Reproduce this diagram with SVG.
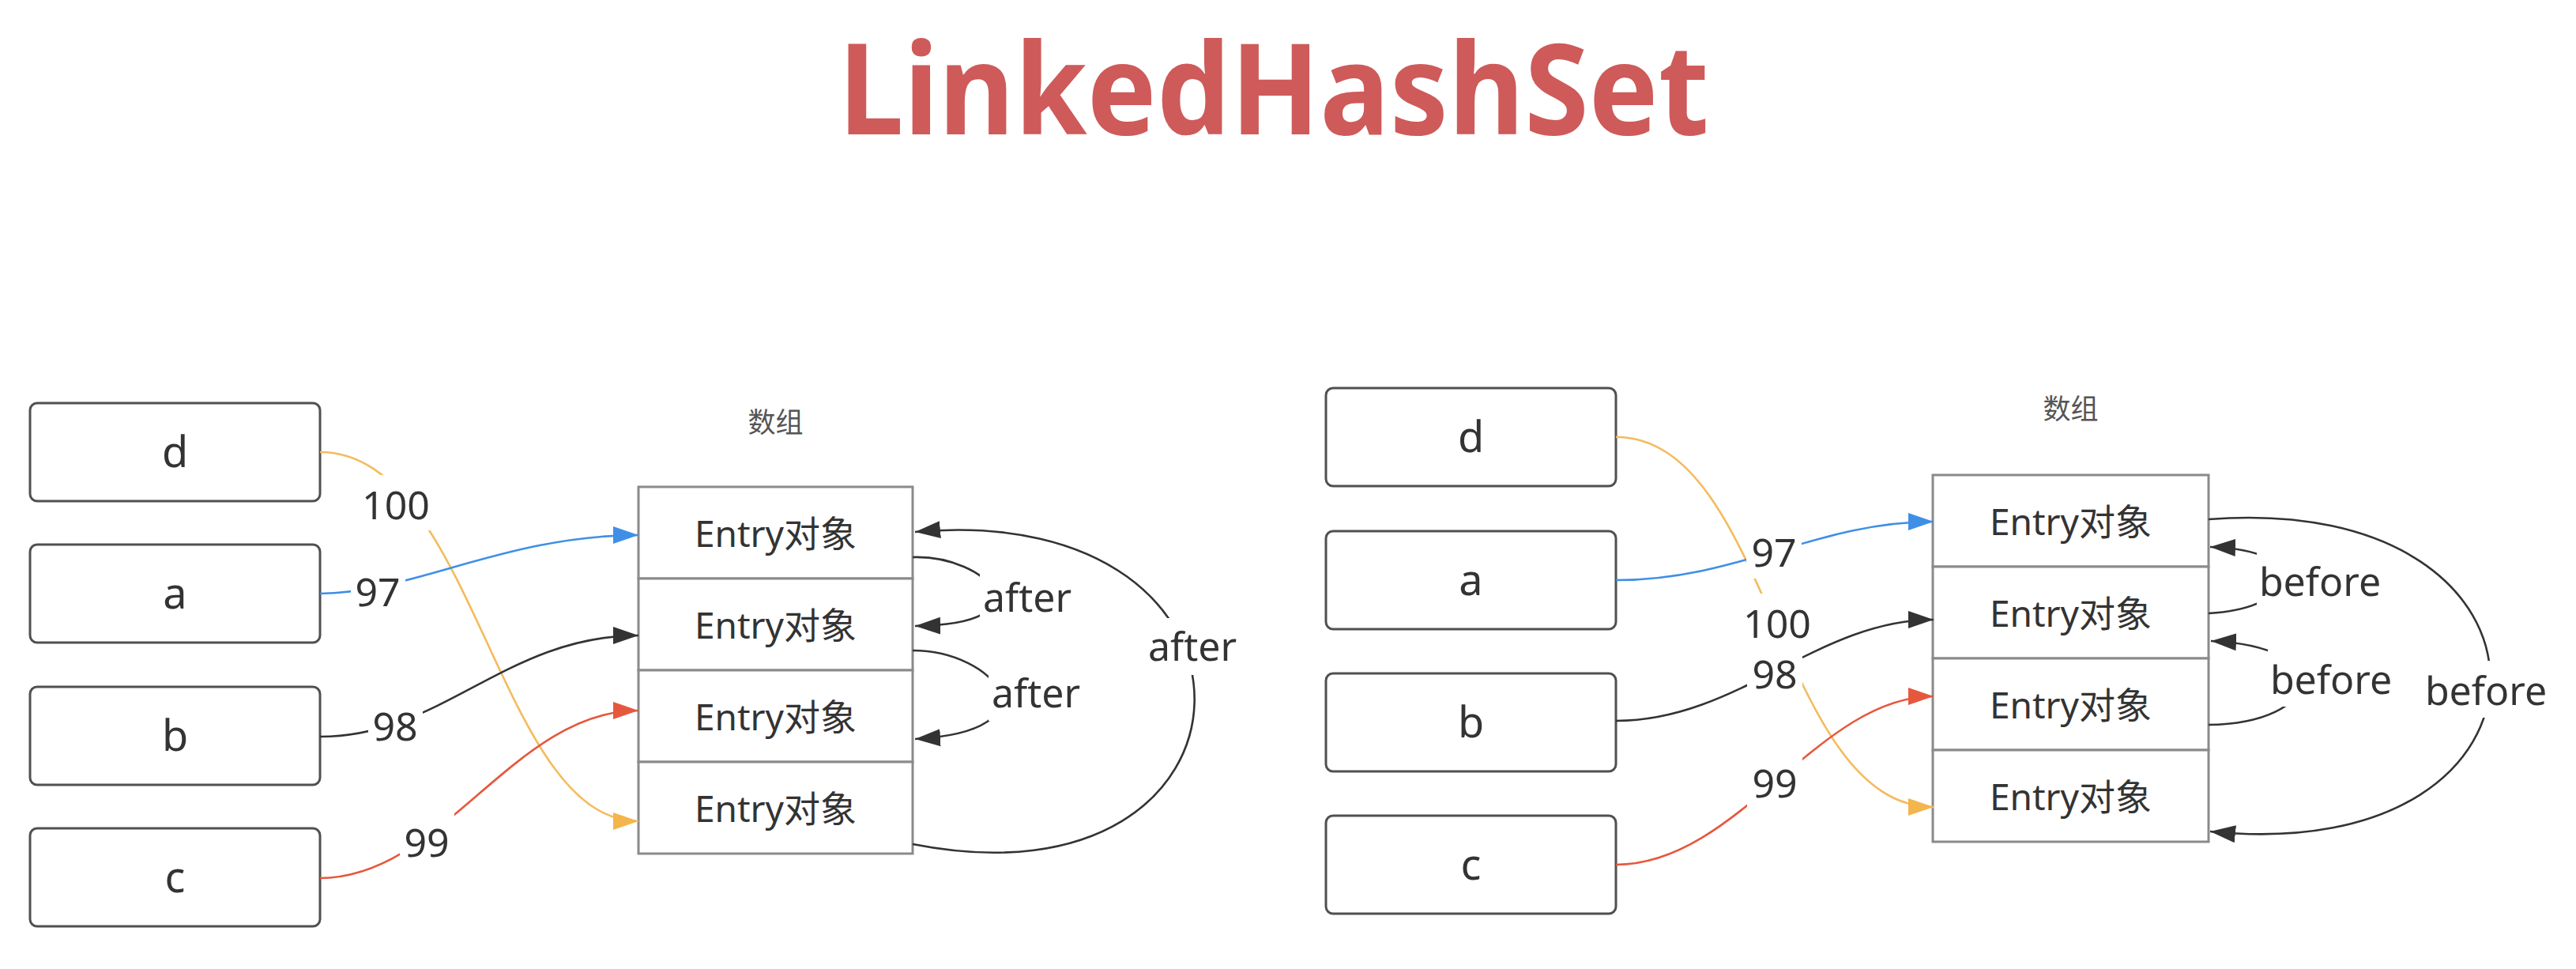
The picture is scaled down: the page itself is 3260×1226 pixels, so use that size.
<svg xmlns="http://www.w3.org/2000/svg" width="3260" height="1226" viewBox="0 0 3260 1226">
<style>
.bg{fill:#ffffff}
.box{fill:#ffffff;stroke:#505050;stroke-width:3}
.cell{fill:#ffffff;stroke:#8a8a8a;stroke-width:3}
.t{font-family:"Noto Sans","Noto Sans CJK SC",sans-serif;fill:#333333;text-anchor:middle}
.bl{font-size:54px}
.el{font-size:46px}
.cap{font-size:35px;fill:#555555}
.lb{font-size:50px}
.lbg{fill:#ffffff}
.c{fill:none;stroke-width:2.6}
.dk{stroke:#333333}
.bu{stroke:#3f8fe6}
.rd{stroke:#e6583d}
.yl{stroke:#f4bb5c}
.title{font-family:"Noto Sans","Open Sans",sans-serif;font-weight:bold;font-size:160px;fill:#cf5a5a;text-anchor:middle}
</style>
<defs>
<marker id="ah-dk" markerUnits="userSpaceOnUse" markerWidth="34" markerHeight="24" refX="32" refY="12" orient="auto"><path d="M0,1 L32,12 L0,23 z" fill="#333333"/></marker>
<marker id="ah-bu" markerUnits="userSpaceOnUse" markerWidth="34" markerHeight="24" refX="32" refY="12" orient="auto"><path d="M0,1 L32,12 L0,23 z" fill="#3f8fe6"/></marker>
<marker id="ah-rd" markerUnits="userSpaceOnUse" markerWidth="34" markerHeight="24" refX="32" refY="12" orient="auto"><path d="M0,1 L32,12 L0,23 z" fill="#e6583d"/></marker>
<marker id="ah-yl" markerUnits="userSpaceOnUse" markerWidth="34" markerHeight="24" refX="32" refY="12" orient="auto"><path d="M0,1 L32,12 L0,23 z" fill="#f4b54c"/></marker>
</defs>
<rect class="bg" x="0" y="0" width="3260" height="1226"/>
<text class="title" x="1612" y="170" textLength="1102" lengthAdjust="spacingAndGlyphs">LinkedHashSet</text>

<!-- Left diagram nodes -->
<g id="L-d"><rect class="box" x="38" y="510" width="367" height="124" rx="9"/><text class="t bl" x="221.5" y="591">d</text></g>
<g id="L-a"><rect class="box" x="38" y="689" width="367" height="124" rx="9"/><text class="t bl" x="221.5" y="770">a</text></g>
<g id="L-b"><rect class="box" x="38" y="869" width="367" height="124" rx="9"/><text class="t bl" x="221.5" y="950">b</text></g>
<g id="L-c"><rect class="box" x="38" y="1048" width="367" height="124" rx="9"/><text class="t bl" x="221.5" y="1129">c</text></g>
<text class="t cap" x="981.5" y="547">数组</text>
<g id="L-e1"><rect class="cell" x="808" y="616" width="347" height="116"/><text class="t el" x="981.5" y="692">Entry对象</text></g>
<g id="L-e2"><rect class="cell" x="808" y="732" width="347" height="116"/><text class="t el" x="981.5" y="808">Entry对象</text></g>
<g id="L-e3"><rect class="cell" x="808" y="848" width="347" height="116"/><text class="t el" x="981.5" y="924">Entry对象</text></g>
<g id="L-e4"><rect class="cell" x="808" y="964" width="347" height="116"/><text class="t el" x="981.5" y="1040">Entry对象</text></g>

<!-- Right diagram nodes -->
<g id="R-d"><rect class="box" x="1678" y="491" width="367" height="124" rx="9"/><text class="t bl" x="1861.5" y="572">d</text></g>
<g id="R-a"><rect class="box" x="1678" y="672" width="367" height="124" rx="9"/><text class="t bl" x="1861.5" y="753">a</text></g>
<g id="R-b"><rect class="box" x="1678" y="852" width="367" height="124" rx="9"/><text class="t bl" x="1861.5" y="933">b</text></g>
<g id="R-c"><rect class="box" x="1678" y="1032" width="367" height="124" rx="9"/><text class="t bl" x="1861.5" y="1113">c</text></g>
<text class="t cap" x="2620.5" y="530">数组</text>
<g id="R-e1"><rect class="cell" x="2446" y="601" width="349" height="116"/><text class="t el" x="2620.5" y="677">Entry对象</text></g>
<g id="R-e2"><rect class="cell" x="2446" y="717" width="349" height="116"/><text class="t el" x="2620.5" y="793">Entry对象</text></g>
<g id="R-e3"><rect class="cell" x="2446" y="833" width="349" height="116"/><text class="t el" x="2620.5" y="909">Entry对象</text></g>
<g id="R-e4"><rect class="cell" x="2446" y="949" width="349" height="116"/><text class="t el" x="2620.5" y="1025">Entry对象</text></g>

<g id="connectors">
<!-- left -->
<path class="c yl" d="M405,572 C 600,572 630,1039 808,1039" marker-end="url(#ah-yl)"/>
<path class="c bu" d="M405,751 C 520,751 640,677 808,677" marker-end="url(#ah-bu)"/>
<path class="c dk" d="M405,932 C 560,932 640,804 808,804" marker-end="url(#ah-dk)"/>
<path class="c rd" d="M405,1111 C 560,1111 650,899 808,899" marker-end="url(#ah-rd)"/>
<path class="c dk" d="M1155,705 C 1250,702 1330,790 1158,792" marker-end="url(#ah-dk)"/>
<path class="c dk" d="M1155,823 C 1260,823 1340,925 1158,935" marker-end="url(#ah-dk)"/>
<path class="c dk" d="M1155,1068 C 1620,1160 1640,630 1158,673" marker-end="url(#ah-dk)"/>
<!-- right -->
<path class="c yl" d="M2045,553 C 2240,553 2250,1021 2447,1021" marker-end="url(#ah-yl)"/>
<path class="c bu" d="M2045,734 C 2200,734 2300,660 2447,660" marker-end="url(#ah-bu)"/>
<path class="c dk" d="M2045,912 C 2200,912 2300,784 2447,784" marker-end="url(#ah-dk)"/>
<path class="c rd" d="M2045,1094 C 2200,1094 2300,881 2447,881" marker-end="url(#ah-rd)"/>
<path class="c dk" d="M2795,776 C 2910,770 2930,696 2797,692" marker-end="url(#ah-dk)"/>
<path class="c dk" d="M2795,917 C 2940,915 2960,818 2798,811" marker-end="url(#ah-dk)"/>
<path class="c dk" d="M2795,657 C 3270,620 3270,1100 2797,1052" marker-end="url(#ah-dk)"/>
</g>

<g id="labels">
<rect class="lbg" x="444" y="711" width="69" height="70"/><text class="t lb" x="478" y="767">97</text>
<rect class="lbg" x="466" y="881" width="69" height="70"/><text class="t lb" x="500" y="937">98</text>
<rect class="lbg" x="506" y="1028" width="69" height="70"/><text class="t lb" x="540" y="1084">99</text>
<rect class="lbg" x="452" y="601" width="99" height="70"/><text class="t lb" x="501" y="657">100</text>
<rect class="lbg" x="1240" y="716" width="120" height="72"/><text class="t lb" x="1300" y="774">after</text>
<rect class="lbg" x="1251" y="838" width="120" height="74"/><text class="t lb" x="1311" y="895">after</text>
<rect class="lbg" x="1449" y="782" width="120" height="72"/><text class="t lb" x="1509" y="836">after</text>

<rect class="lbg" x="2210" y="662" width="70" height="70"/><text class="t lb" x="2245" y="717">97</text>
<rect class="lbg" x="2200" y="751" width="98" height="68"/><text class="t lb" x="2249" y="807">100</text>
<rect class="lbg" x="2211" y="819" width="70" height="66"/><text class="t lb" x="2246" y="871">98</text>
<rect class="lbg" x="2211" y="953" width="70" height="70"/><text class="t lb" x="2246" y="1009">99</text>
<rect class="lbg" x="2856" y="698" width="160" height="72"/><text class="t lb" x="2936" y="754">before</text>
<rect class="lbg" x="2870" y="822" width="160" height="72"/><text class="t lb" x="2950" y="878">before</text>
<rect class="lbg" x="3066" y="836" width="160" height="72"/><text class="t lb" x="3146" y="892">before</text>
</g>
</svg>
